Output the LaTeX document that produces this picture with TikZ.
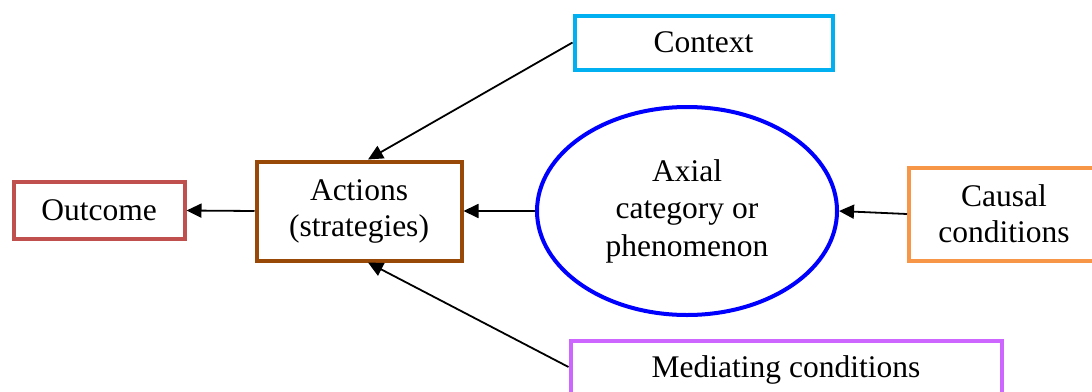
\documentclass[tikz,border=0pt]{standalone}
\usepackage{fontspec}
\setmainfont{Liberation Serif}
\newfontfamily\serf{Liberation Serif}
\usetikzlibrary{arrows.meta,shapes.geometric}
\definecolor{ctxc}{HTML}{00B0F0}
\definecolor{outc}{HTML}{C0504D}
\definecolor{actc}{HTML}{984807}
\definecolor{ellc}{HTML}{0000FF}
\definecolor{cauc}{HTML}{F79646}
\definecolor{medc}{HTML}{CC66FF}
\begin{document}
\begin{tikzpicture}[x=1pt,y=-1pt,
  txt/.style={inner sep=0pt, align=center, font=\serf\fontsize{31.5}{36}\selectfont},
  box/.style={txt, draw, rectangle, line width=4pt},
  conn/.style={line width=1.8pt, -{Triangle[length=15pt,width=14pt]}}]
\useasboundingbox (0,0) rectangle (1092,391);
\clip (0,0) rectangle (1092,391);
\node[box, draw=ctxc, minimum width=258pt, minimum height=54pt] (ctx) at (703.5,42.5) {Context};
\node[box, draw=outc, minimum width=171pt, minimum height=57pt] (out) at (99,210.5) {Outcome};
\node[box, draw=actc, minimum width=205pt, minimum height=99pt] (act) at (359,211) {Actions\\(strategies)};
\node[txt, draw=ellc, ellipse, line width=4pt, minimum width=300pt, minimum height=208pt, font=\serf\fontsize{31.5}{37.5}\selectfont] (ell) at (687,211) {Axial\\category or\\phenomenon};
\node[box, draw=cauc, minimum width=190pt, minimum height=93pt] (cau) at (1004,214) {Causal\\conditions};
\node[box, draw=medc, minimum width=431pt, minimum height=53pt, text depth=0pt] (med) at (786,367) {Mediating conditions};
\draw[conn] (act.west) -- (out.east);
\draw[conn] (ell.west) -- (act.east);
\draw[conn] (cau.west) -- (ell.east);
\draw[conn] (ctx.west) -- ([xshift=9pt]act.north);
\draw[conn] (med.west) -- ([xshift=9pt]act.south);
\end{tikzpicture}
\end{document}
